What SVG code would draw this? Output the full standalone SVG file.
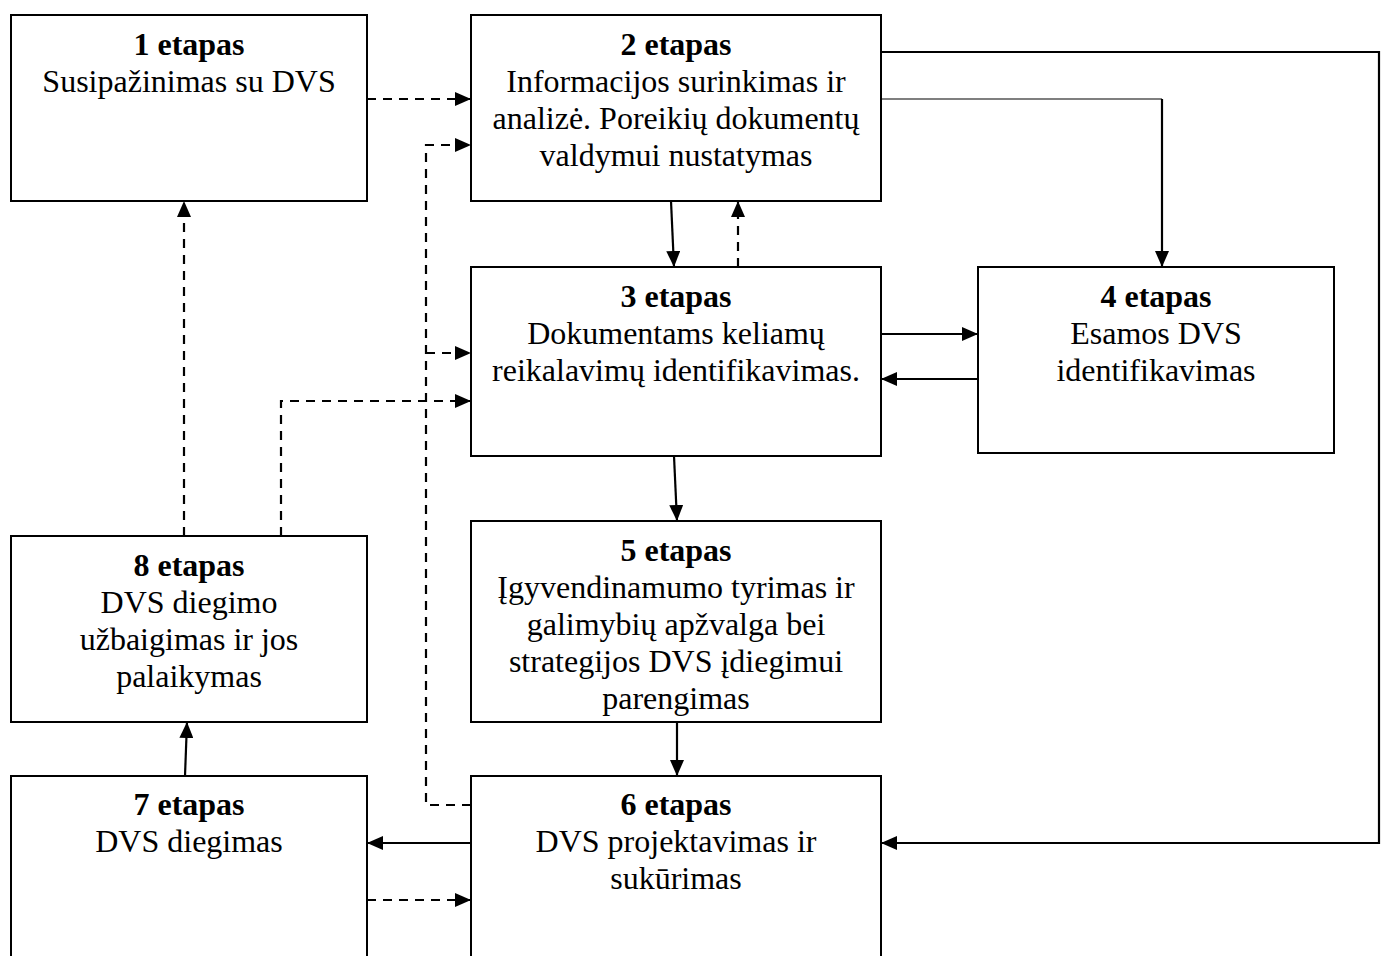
<svg xmlns="http://www.w3.org/2000/svg" width="1381" height="956" viewBox="0 0 1381 956">
  <style>
    .box { fill: #fff; stroke: #000; stroke-width: 2; }
    .t { font-family: "Liberation Serif", "Times New Roman", serif; font-size: 32px; fill: #000; text-anchor: middle; }
    .b { font-weight: bold; }
    .ln { fill: none; stroke: #000; stroke-width: 2.2; }
    .thin { fill: none; stroke: #000; stroke-width: 1.2; }
    .dash { fill: none; stroke: #000; stroke-width: 2.2; stroke-dasharray: 9 7; }
  </style>
  <defs>
    <marker id="ah" viewBox="0 0 16 14" refX="16" refY="7" markerWidth="16" markerHeight="14" markerUnits="userSpaceOnUse" orient="auto">
      <path d="M0,0 L16,7 L0,14 Z" fill="#000"/>
    </marker>
  </defs>
  <rect width="1381" height="956" fill="#fff"/>

  <g id="node-1">
    <rect class="box" x="11" y="15" width="356" height="186"/>
    <text class="t b" x="189" y="55">1 etapas</text>
    <text class="t" x="189" y="92">Susipažinimas su DVS</text>
  </g>
  <g id="node-2">
    <rect class="box" x="471" y="15" width="410" height="186"/>
    <text class="t b" x="676" y="55">2 etapas</text>
    <text class="t" x="676" y="92">Informacijos surinkimas ir</text>
    <text class="t" x="676" y="129">analizė. Poreikių dokumentų</text>
    <text class="t" x="676" y="166">valdymui nustatymas</text>
  </g>
  <g id="node-3">
    <rect class="box" x="471" y="267" width="410" height="189"/>
    <text class="t b" x="676" y="307">3 etapas</text>
    <text class="t" x="676" y="344">Dokumentams keliamų</text>
    <text class="t" x="676" y="381">reikalavimų identifikavimas.</text>
  </g>
  <g id="node-4">
    <rect class="box" x="978" y="267" width="356" height="186"/>
    <text class="t b" x="1156" y="307">4 etapas</text>
    <text class="t" x="1156" y="344">Esamos DVS</text>
    <text class="t" x="1156" y="381">identifikavimas</text>
  </g>
  <g id="node-5">
    <rect class="box" x="471" y="521" width="410" height="201"/>
    <text class="t b" x="676" y="561">5 etapas</text>
    <text class="t" x="676" y="598">Įgyvendinamumo tyrimas ir</text>
    <text class="t" x="676" y="635">galimybių apžvalga bei</text>
    <text class="t" x="676" y="672">strategijos DVS įdiegimui</text>
    <text class="t" x="676" y="709">parengimas</text>
  </g>
  <g id="node-6">
    <rect class="box" x="471" y="776" width="410" height="200"/>
    <text class="t b" x="676" y="815">6 etapas</text>
    <text class="t" x="676" y="852">DVS projektavimas ir</text>
    <text class="t" x="676" y="889">sukūrimas</text>
  </g>
  <g id="node-7">
    <rect class="box" x="11" y="776" width="356" height="200"/>
    <text class="t b" x="189" y="815">7 etapas</text>
    <text class="t" x="189" y="852">DVS diegimas</text>
  </g>
  <g id="node-8">
    <rect class="box" x="11" y="536" width="356" height="186"/>
    <text class="t b" x="189" y="576">8 etapas</text>
    <text class="t" x="189" y="613">DVS diegimo</text>
    <text class="t" x="189" y="650">užbaigimas ir jos</text>
    <text class="t" x="189" y="687">palaikymas</text>
  </g>

  <g id="connectors">
    <!-- dashed feedback links -->
    <path class="dash" d="M367,99 H471" marker-end="url(#ah)"/>
    <path class="dash" d="M471,805 H426 V145 H471" marker-end="url(#ah)"/>
    <path class="dash" d="M426,353 H471" marker-end="url(#ah)"/>
    <path class="dash" d="M281,536 V401 H471" marker-end="url(#ah)"/>
    <path class="dash" d="M184,536 V201" marker-end="url(#ah)"/>
    <path class="dash" d="M738,267 V201" marker-end="url(#ah)"/>
    <path class="dash" d="M367,900 H471" marker-end="url(#ah)"/>
    <!-- solid flow links -->
    <path class="ln" d="M671,201 L674,267" marker-end="url(#ah)"/>
    <path class="ln" d="M881,334 H978" marker-end="url(#ah)"/>
    <path class="ln" d="M978,379 H881" marker-end="url(#ah)"/>
    <path class="ln" d="M674,456 L677,521" marker-end="url(#ah)"/>
    <path class="ln" d="M677,722 V776" marker-end="url(#ah)"/>
    <path class="ln" d="M471,843 H367" marker-end="url(#ah)"/>
    <path class="ln" d="M185,776 L187,722" marker-end="url(#ah)"/>
    <path class="ln" d="M881,52 H1379 V843 H881" marker-end="url(#ah)"/>
    <path class="thin" d="M881,99 H1162"/>
    <path class="ln" d="M1162,99 V267" marker-end="url(#ah)"/>
  </g>
</svg>
